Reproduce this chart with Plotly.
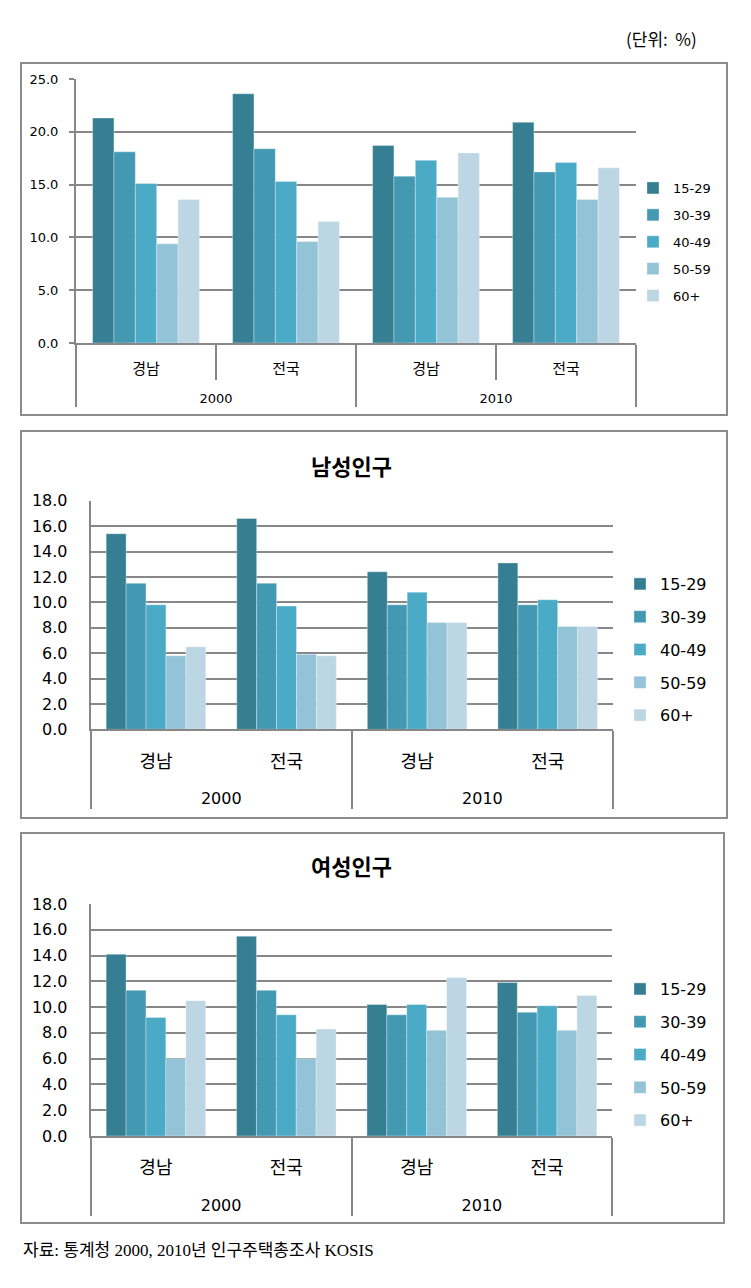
import plotly.graph_objects as go

# ---------------- data ----------------
years = ["2000", "2000", "2010", "2010"]
regions = ["경남", "전국", "경남", "전국"]
age_groups = ["15-29", "30-39", "40-49", "50-59", "60+"]

total_vals = {
    "15-29": [21.3, 23.6, 18.7, 20.9],
    "30-39": [18.1, 18.4, 15.8, 16.2],
    "40-49": [15.1, 15.3, 17.3, 17.1],
    "50-59": [9.4, 9.6, 13.8, 13.6],
    "60+":   [13.6, 11.5, 18.0, 16.6],
}
male_vals = {
    "15-29": [15.4, 16.6, 12.4, 13.1],
    "30-39": [11.5, 11.5, 9.8, 9.8],
    "40-49": [9.8, 9.7, 10.8, 10.2],
    "50-59": [5.8, 5.9, 8.4, 8.1],
    "60+":   [6.5, 5.8, 8.4, 8.1],
}
female_vals = {
    "15-29": [14.1, 15.5, 10.2, 11.9],
    "30-39": [11.3, 11.3, 9.4, 9.6],
    "40-49": [9.2, 9.4, 10.2, 10.1],
    "50-59": [6.0, 6.0, 8.2, 8.2],
    "60+":   [10.5, 8.3, 12.3, 10.9],
}
colors = ["#367F92", "#4399B2", "#4BAAC6", "#93C3D7", "#BCD7E3"]

titles = ["", "남성인구", "여성인구"]
unit_text = "(단위:\u00a0\u00a0%)"
source_text = "자료: 통계청 2000, 2010년 인구주택총조사 KOSIS"

# ---------------- layout helpers ----------------
OFF = 8                       # default body margin of the html page
W, H = 751 - 2 * OFF, 1288 - 2 * OFF
def px(v):
    return v - OFF
def xd(a, b):
    return [px(a) / W, px(b) / W]
def yd(top, bottom):
    return [1 - px(bottom) / H, 1 - px(top) / H]
def xp(v):
    return px(v) / W
def yp(v):
    return 1 - px(v) / H

GRID = "#878787"
SANS = "DejaVu Sans, Noto Sans CJK KR, sans-serif"
KR = "Noto Sans CJK KR, sans-serif"

panels = [
    dict(vals=total_vals, xdom=xd(76, 636), ydom=yd(79, 343), ymax=25, dtick=5,
         fs=13, yrfs=13, krfs=15, xbase=15, lfs=13, gw=1.5, box=(21, 63, 727, 415),
         legend_xy=(633, 173), gap=7, ticks=True, xstand=11),
    dict(vals=male_vals, xdom=xd(90.7, 613), ydom=yd(500.7, 729.3), ymax=18, dtick=2,
         fs=16, yrfs=16, krfs=18, xbase=20, lfs=16, gw=2.2, box=(21, 431, 727, 818),
         legend_xy=(620, 567), gap=9, ticks=False, xstand=13),
    dict(vals=female_vals, xdom=xd(90.7, 612.3), ydom=yd(904, 1136), ymax=18, dtick=2,
         fs=16, yrfs=16, krfs=18, xbase=20, lfs=16, gw=2.2, box=(21, 833, 724, 1223),
         legend_xy=(620, 972), gap=9, ticks=False, xstand=12),
]

fig = go.Figure()
layout = dict(
    width=W, height=H, margin=dict(l=0, r=0, t=0, b=0, autoexpand=False),
    paper_bgcolor="white", plot_bgcolor="white",
    barmode="group", bargap=0.237, bargroupgap=0,
    shapes=[], annotations=[],
)

for i, p in enumerate(panels):
    sfx = "" if i == 0 else str(i + 1)
    legname = "legend" + sfx
    inner = [f"<span style='font-size:{p['krfs']}px'>{r}</span>" for r in regions]
    outer = [f"<br><span style='font-size:{p['yrfs']}px'>{y}</span>" for y in years]
    for k, ag in enumerate(age_groups):
        fig.add_trace(go.Bar(
            x=[outer, inner], y=p["vals"][ag], name=ag,
            marker=dict(color=colors[k], line=dict(color="rgba(255,255,255,0.55)", width=0.6)),
            xaxis="x" + sfx, yaxis="y" + sfx,
            legend=legname, legendgroup=f"{i}-{ag}", showlegend=True,
            hoverinfo="y+name",
        ))
    layout["xaxis" + sfx] = dict(
        type="multicategory", domain=p["xdom"], anchor="y" + sfx, automargin=False,
        showline=True, linecolor=GRID, linewidth=2,
        showdividers=True, dividercolor=GRID, dividerwidth=2,
        ticks="outside" if p["ticks"] else "", tickson="boundaries",
        ticklen=35, tickcolor=GRID, tickwidth=2,
        ticklabelstandoff=p["xstand"],
        tickfont=dict(family=SANS, size=p["xbase"], color="black"),
        showgrid=False, fixedrange=True,
    )
    layout["yaxis" + sfx] = dict(
        domain=p["ydom"], anchor="x" + sfx, range=[0, p["ymax"]], dtick=p["dtick"],
        automargin=False,
        tickformat=".1f", showgrid=True, gridcolor=GRID, gridwidth=p["gw"],
        showline=True, linecolor=GRID, linewidth=2,
        ticks="outside" if p["ticks"] else "", ticklen=5, tickcolor=GRID, tickwidth=1.5,
        ticklabelstandoff=8 if p["ticks"] else 18,
        tickfont=dict(family=SANS, size=p["fs"], color="black"),
        zeroline=False, fixedrange=True,
    )
    lx, ly = p["legend_xy"]
    layout[legname] = dict(
        x=xp(lx), y=yp(ly), xanchor="left", yanchor="top",
        font=dict(family=SANS, size=p["lfs"], color="black"),
        tracegroupgap=p["gap"], bgcolor="rgba(0,0,0,0)",
        itemclick=False, itemdoubleclick=False,
    )
    x0, y0, x1, y1 = p["box"]
    layout["shapes"].append(dict(
        type="rect", xref="paper", yref="paper",
        x0=xp(x0), x1=xp(x1), y0=yp(y1), y1=yp(y0),
        line=dict(color="#8c8c8c", width=2), layer="below",
    ))
    if titles[i]:
        cx = (p["xdom"][0] + p["xdom"][1]) / 2
        ty = 465 if i == 1 else 865
        layout["annotations"].append(dict(
            text=f"<b>{titles[i]}</b>", xref="paper", yref="paper",
            x=cx, y=yp(ty), xanchor="center", yanchor="middle",
            showarrow=False, font=dict(family=KR, size=22, color="black"),
        ))

layout["annotations"].append(dict(
    text=unit_text, xref="paper", yref="paper", x=xp(699), y=yp(38),
    xanchor="right", yanchor="middle", showarrow=False,
    font=dict(family=KR, size=17, color="black"),
))
layout["annotations"].append(dict(
    text=source_text, xref="paper", yref="paper", x=xp(21), y=yp(1250),
    xanchor="left", yanchor="middle", showarrow=False,
    font=dict(family="Liberation Serif, Noto Sans CJK KR, serif", size=17, color="black"),
))

fig.update_layout(**layout)
fig.write_html("out.html")
